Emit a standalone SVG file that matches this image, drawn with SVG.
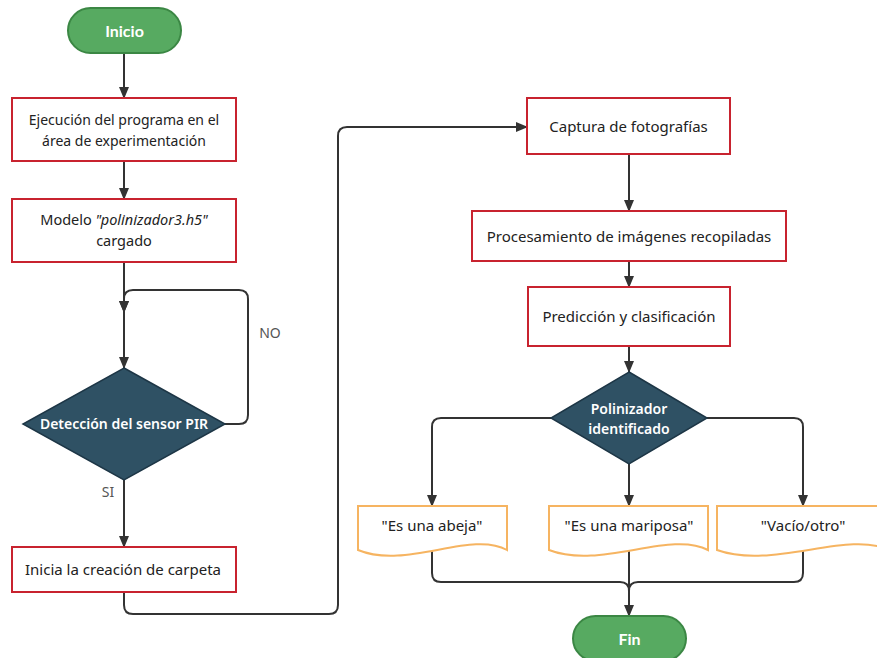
<svg xmlns="http://www.w3.org/2000/svg" width="877" height="658" viewBox="0 0 877 658">
<defs>
<marker id="ah" markerWidth="12" markerHeight="10" refX="11" refY="5" orient="auto" markerUnits="userSpaceOnUse">
<path d="M0,0 L12,5 L0,10 Z" fill="#333"/>
</marker>
<style>
.t{font-family:"Noto Sans","Open Sans",sans-serif;font-size:15px;fill:#222;text-anchor:middle}
.s{font-size:14px}
.m{font-size:14.5px}
.w{font-family:"Noto Sans","Open Sans",sans-serif;font-size:14px;font-weight:600;fill:#fff;text-anchor:middle}
.p{font-family:Lato,"Open Sans",sans-serif;font-size:16px;font-weight:bold;fill:#fff;text-anchor:middle}
.l{font-family:"Noto Sans","Open Sans",sans-serif;font-size:14px;fill:#555;text-anchor:middle}
.box{fill:#fff;stroke:#c8232f;stroke-width:2}
.pill{fill:#57aa61;stroke:#3b8744;stroke-width:2}
.dia{fill:#2f5164;stroke:#1d3646;stroke-width:1.5}
.doc{fill:#fff;stroke:#f6b461;stroke-width:2}
.c{fill:none;stroke:#333;stroke-width:2}
</style>
</defs>
<rect width="877" height="658" fill="#fff"/>
<g id="connectors">
<path class="c" d="M124,53 V98" marker-end="url(#ah)"/>
<path class="c" d="M124,161 V199" marker-end="url(#ah)"/>
<path class="c" d="M124,262 V312" marker-end="url(#ah)"/>
<path class="c" d="M124,312 V368" marker-end="url(#ah)"/>
<path class="c" d="M225,424 H239 Q248,424 248,415 V299 Q248,290 239,290 H133 Q124,290 124,299 V312" marker-end="url(#ah)"/>
<path class="c" d="M124,480 V547" marker-end="url(#ah)"/>
<path class="c" d="M124,592 V605 Q124,614 133,614 H329 Q338,614 338,605 V136 Q338,127 347,127 H527" marker-end="url(#ah)"/>
<path class="c" d="M629,154 V211" marker-end="url(#ah)"/>
<path class="c" d="M629,261 V287" marker-end="url(#ah)"/>
<path class="c" d="M629,346 V372" marker-end="url(#ah)"/>
<path class="c" d="M551,418 H441 Q432,418 432,427 V506" marker-end="url(#ah)"/>
<path class="c" d="M629,464 V506" marker-end="url(#ah)"/>
<path class="c" d="M707,418 H794 Q803,418 803,427 V506" marker-end="url(#ah)"/>
<path class="c" d="M432,549 V573 Q432,582 441,582 H620 Q629,582 629,591 V604"/>
<path class="c" d="M803,549 V573 Q803,582 794,582 H638 Q629,582 629,591 V604"/>
<path class="c" d="M629,549 V616" marker-end="url(#ah)"/>
<text class="l" x="270" y="338">NO</text>
<text class="l" x="108" y="497">SI</text>
</g>
<g id="inicio">
<rect class="pill" x="68" y="8" width="113" height="45" rx="22.5"/>
<text class="p" x="124.5" y="36.5">Inicio</text>
</g>
<g id="ejecucion">
<rect class="box" x="12" y="98" width="224" height="63"/>
<text class="t s" x="124" y="125">Ejecución del programa en el</text>
<text class="t s" x="124" y="146">área de experimentación</text>
</g>
<g id="modelo">
<rect class="box" x="12" y="199" width="224" height="63"/>
<text class="t m" x="124" y="225">Modelo <tspan font-style="italic">"polinizador3.h5"</tspan></text>
<text class="t m" x="124" y="246">cargado</text>
</g>
<g id="pir">
<polygon class="dia" points="124,368 225,424 124,480 23,424"/>
<text class="w" x="124" y="429">Detección del sensor PIR</text>
</g>
<g id="carpeta">
<rect class="box" x="12" y="547" width="224" height="45"/>
<text class="t" x="123" y="575">Inicia la creación de carpeta</text>
</g>
<g id="captura">
<rect class="box" x="527" y="98" width="203" height="56"/>
<text class="t" x="628.5" y="132">Captura de fotografías</text>
</g>
<g id="procesamiento">
<rect class="box" x="472" y="211" width="314" height="50"/>
<text class="t" x="629" y="242">Procesamiento de imágenes recopiladas</text>
</g>
<g id="prediccion">
<rect class="box" x="528" y="287" width="202" height="59"/>
<text class="t" x="629" y="322">Predicción y clasificación</text>
</g>
<g id="polinizador">
<polygon class="dia" points="629,372 707,418 629,464 551,418"/>
<text class="w" x="629" y="414">Polinizador</text>
<text class="w" x="629" y="434">identificado</text>
</g>
<g id="abeja">
<path class="doc" d="M358,506 H507 V550 C471,530 406,570 358,550 Z"/>
<text class="t" x="432" y="531">"Es una abeja"</text>
</g>
<g id="mariposa">
<path class="doc" d="M549,506 H708 V550 C670,530 600,570 549,550 Z"/>
<text class="t" x="629" y="531">"Es una mariposa"</text>
</g>
<g id="vacio">
<path class="doc" d="M717,506 H889 V550 C848,530 772,570 717,550 Z"/>
<text class="t" x="803" y="531">"Vacío/otro"</text>
</g>
<g id="fin">
<rect class="pill" x="573" y="616" width="113" height="45" rx="22.5"/>
<text class="p" x="629.5" y="644.5">Fin</text>
</g>
</svg>
